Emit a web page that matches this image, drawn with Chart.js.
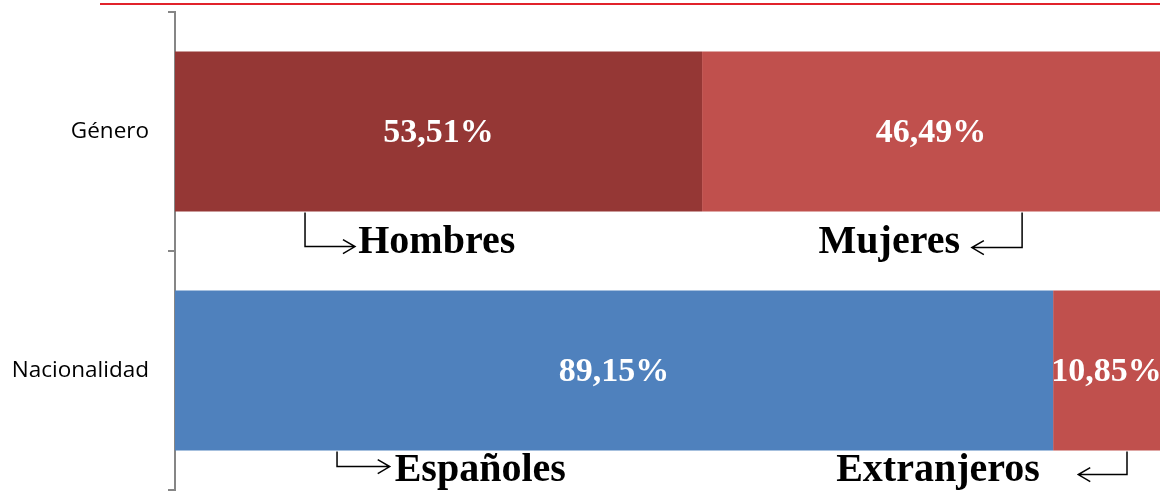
<!DOCTYPE html>
<html>
<head>
<meta charset="utf-8">
<script src="https://cdn.jsdelivr.net/npm/chart.js@4/dist/chart.umd.min.js"></script>
<style>
html,body{margin:0;padding:0;background:#fff;}
#wrap{width:1162px;height:496px;position:relative;}
</style>
</head>
<body>
<div id="wrap"><canvas id="c" width="1162" height="496"></canvas></div>
<script>
// ---- data ----
const categories = ['Género', 'Nacionalidad'];
const firstGroup = [53.51, 89.15];   // Hombres / Españoles
const secondGroup = [46.49, 10.85];  // Mujeres / Extranjeros
const groupNames = ['Hombres', 'Mujeres', 'Españoles', 'Extranjeros'];
// annotation anchors in axis units (percent)
const annoCategory = [0, 0, 1, 1];
const annoStem = [13.2, 86.0, 16.45, 96.65];
const annoTip = [18.27, 80.9, 21.8, 91.7];
const annoText = [18.6, 79.7, 22.3, 87.8];

// ---- styles ----
const firstColors = ['#953735', '#4F81BD'];
const secondColors = ['#C0504D', '#C0504D'];
const annoLineDy = [35, 36, 16, 24];
const annoTextDy = [41, 41, 30, 30];

const pctFmt = v => v.toFixed(2).replace('.', ',') + '%';

const labelsPlugin = {
  id: 'labels',
  afterDatasetsDraw(chart) {
    const ctx = chart.ctx;
    ctx.save();
    ctx.fillStyle = '#ffffff';
    ctx.font = 'bold 34px "Liberation Serif", serif';
    ctx.textAlign = 'center';
    ctx.textBaseline = 'middle';
    chart.data.datasets.forEach((ds, di) => {
      const meta = chart.getDatasetMeta(di);
      meta.data.forEach((bar, i) => {
        const cx = (bar.x + bar.base) / 2;
        ctx.fillText(pctFmt(ds.data[i]), cx, bar.y + 2);
      });
    });
    // annotations
    const xs = chart.scales.x;
    const meta0 = chart.getDatasetMeta(0);
    ctx.fillStyle = '#000';
    ctx.strokeStyle = '#000';
    ctx.lineWidth = 1.5;
    ctx.font = 'bold 40px "Liberation Serif", serif';
    ctx.textBaseline = 'alphabetic';
    groupNames.forEach((name, k) => {
      const bar = meta0.data[annoCategory[k]];
      const bottom = bar.y + bar.height / 2;
      const sx = xs.getPixelForValue(annoStem[k]);
      const tx = xs.getPixelForValue(annoTip[k]);
      const lx = xs.getPixelForValue(annoText[k]);
      const ly = bottom + annoLineDy[k];
      const dir = tx > sx ? 1 : -1;
      ctx.beginPath();
      ctx.moveTo(sx, bottom + 1);
      ctx.lineTo(sx, ly);
      ctx.lineTo(tx, ly);
      ctx.moveTo(tx - dir * 12, ly - 7);
      ctx.lineTo(tx, ly);
      ctx.lineTo(tx - dir * 12, ly + 7);
      ctx.stroke();
      ctx.textAlign = dir > 0 ? 'left' : 'right';
      ctx.fillText(name, lx, bottom + annoTextDy[k]);
    });
    // header rule
    ctx.strokeStyle = '#E1232B';
    ctx.lineWidth = 2;
    ctx.beginPath();
    ctx.moveTo(100, 4);
    ctx.lineTo(1160, 4);
    ctx.stroke();
    ctx.restore();
  }
};

new Chart(document.getElementById('c'), {
  type: 'bar',
  data: {
    labels: categories,
    datasets: [
      { label: 'Hombres / Españoles', data: firstGroup, backgroundColor: firstColors,
        barPercentage: 0.67, categoryPercentage: 1 },
      { label: 'Mujeres / Extranjeros', data: secondGroup, backgroundColor: secondColors,
        barPercentage: 0.67, categoryPercentage: 1 }
    ]
  },
  options: {
    indexAxis: 'y',
    responsive: false,
    animation: false,
    layout: { padding: { top: 12, bottom: 6, right: 2, left: 0 } },
    plugins: { legend: { display: false }, tooltip: { enabled: false } },
    scales: {
      x: { stacked: true, min: 0, max: 100, display: false },
      y: {
        stacked: true,
        afterFit(s) { s.width = 175; s.paddingTop = 0; s.paddingBottom = 0; },
        border: { display: true, color: '#868686', width: 2 },
        grid: { drawOnChartArea: false, drawTicks: true, tickLength: 7, color: '#868686', lineWidth: 2, offset: true },
        ticks: { color: '#000', padding: 19, font: { family: '"Open Sans", sans-serif', size: 22.5 } }
      }
    }
  },
  plugins: [labelsPlugin]
});
</script>
</body>
</html>
